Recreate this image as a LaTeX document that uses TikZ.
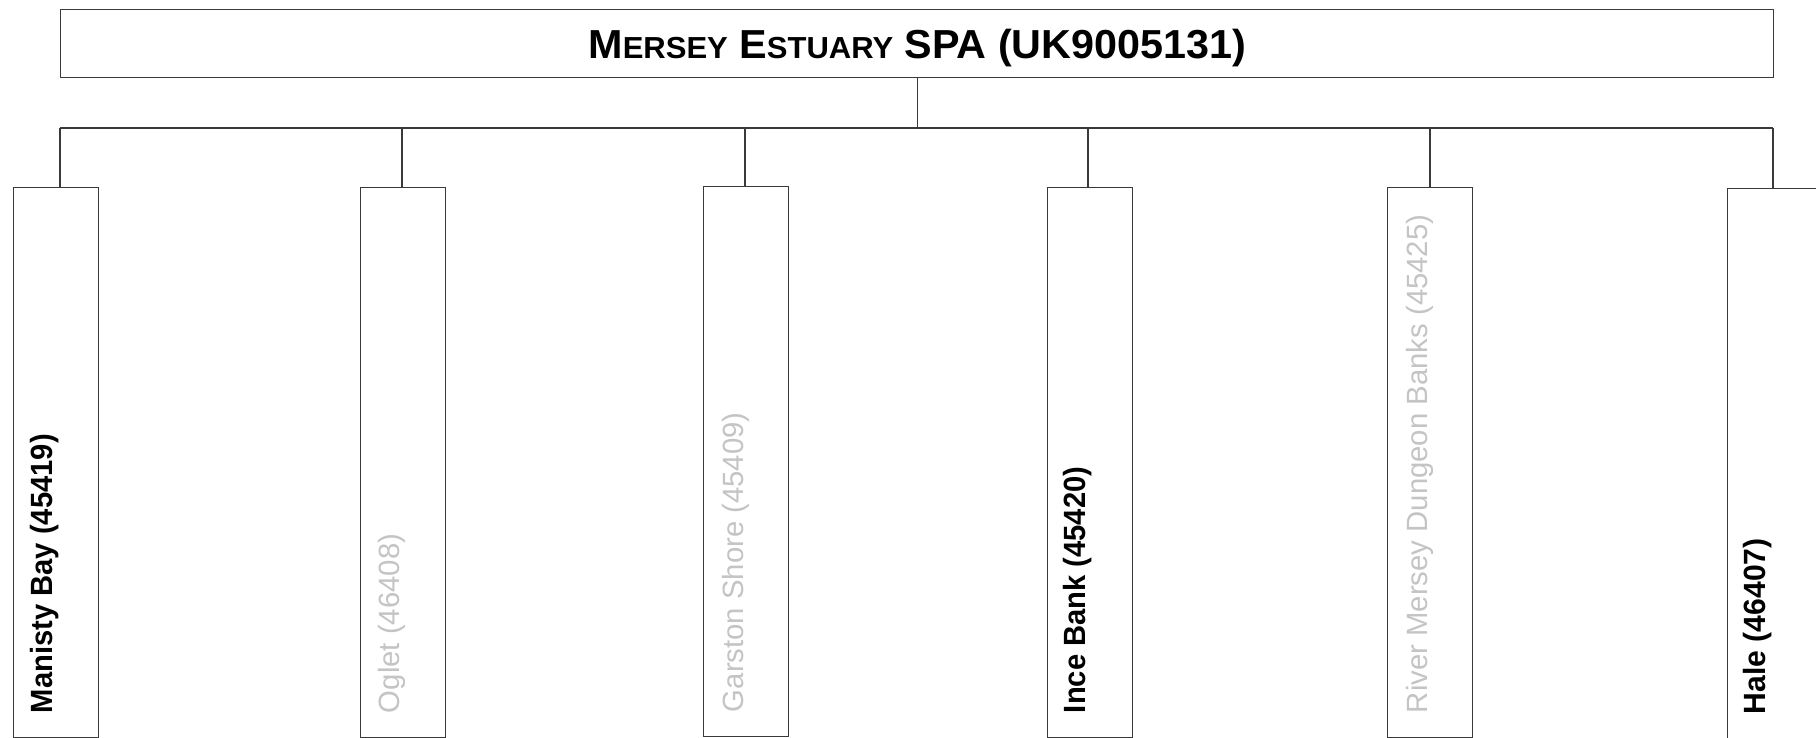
\documentclass[tikz,border=0pt]{standalone}
\usepackage{fontspec}
\setmainfont{Liberation Sans}
\usepackage{graphicx}
\definecolor{linec}{HTML}{3A3A3A}
\definecolor{lighttext}{HTML}{C4C4C4}
\tikzset{
  conn/.style={draw=linec, line width=0.7pt},
  boxst/.style={draw=linec, line width=0.7pt, fill=white, rectangle, inner sep=0pt,
    minimum width=42.5pt, minimum height=275pt, anchor=north west},
  topbox/.style={draw=linec, line width=0.7pt, rectangle, inner sep=0pt,
    minimum width=856.5pt, minimum height=34pt, anchor=north west,
    text height=14.5pt, text depth=0pt},
  boldlab/.style={rotate=90, anchor=base west, inner sep=0pt,
    font=\fontsize{15.35pt}{18pt}\selectfont\bfseries, text=black},
  greylab/.style={rotate=90, anchor=base west, inner sep=0pt,
    font=\fontsize{14.65pt}{18pt}\selectfont, text=lighttext}
}
\newcommand{\bl}[1]{\scalebox{0.95}[1]{#1}}
\newcommand{\gl}[1]{\scalebox{1.0}[1]{#1}}
\newcommand{\smc}[1]{{\fontsize{15.2pt}{18pt}\selectfont #1}}
\begin{document}
\begin{tikzpicture}[x=0.5pt,y=-0.5pt]
\useasboundingbox (0,0) rectangle (1816,738);
% top box
\node[topbox] (top) at (60,9)
  {\scalebox{1.02}[1]{\fontsize{20.25pt}{24pt}\selectfont\bfseries M\smc{ERSEY} E\smc{STUARY} SPA (UK9005131)}};
% child boxes
\node[boxst] (b1) at (13,187) {};
\node[boxst] (b2) at (360,187) {};
\node[boxst] (b3) at (703,186) {};
\node[boxst] (b4) at (1047,187) {};
\node[boxst] (b5) at (1387,187) {};
\node[boxst, minimum width=50pt] (b6) at (1727,188) {};
% labels
\node[boldlab] (t1) at ([shift={(39,-25)}]b1.south west) {\bl{Manisty Bay (45419)}};
\node[greylab] (t2) at ([shift={(39,-25)}]b2.south west) {\gl{Oglet (46408)}};
\node[greylab] (t3) at ([shift={(40,-25)}]b3.south west) {\gl{Garston Shore (45409)}};
\node[boldlab] (t4) at ([shift={(38,-25)}]b4.south west) {\bl{Ince Bank (45420)}};
\node[greylab] (t5) at ([shift={(40,-25)}]b5.south west) {\gl{River Mersey Dungeon Banks (45425)}};
\node[boldlab] (t6) at ([shift={(38,-25)}]b6.south west) {\scalebox{0.98}[1]{Hale (46407)}};
% connectors
\coordinate (bus) at (top.south |- 0,128);
\coordinate (d1) at (60,128);
\coordinate (d2) at (402,128);
\coordinate (d3) at (745,128);
\coordinate (d4) at (1088,128);
\coordinate (d5) at (1430,128);
\coordinate (d6) at (1773,128);
\draw[conn] (top.south) -- (bus);
\draw[conn] (d1) -- (d6);
\foreach \i in {1,...,6}{
  \draw[conn] (d\i) -- (d\i |- b\i.north);
}
\end{tikzpicture}
\end{document}
